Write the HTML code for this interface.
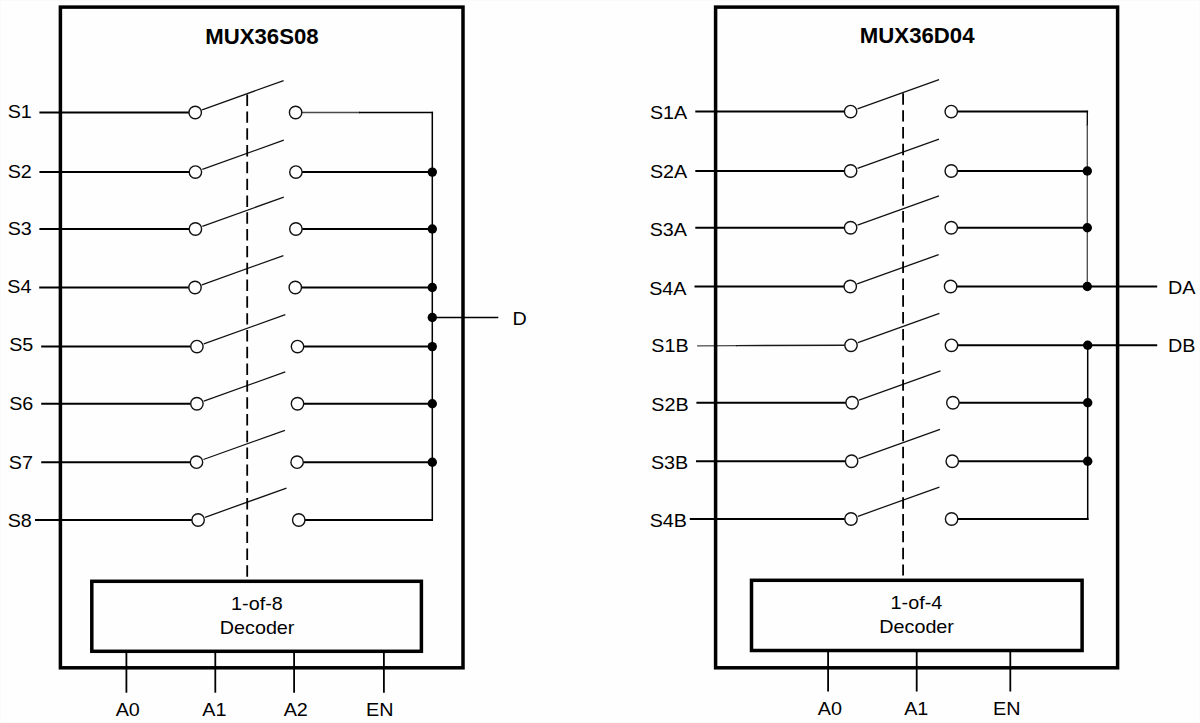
<!DOCTYPE html>
<html><head><meta charset="utf-8"><title>MUX36S08 / MUX36D04</title>
<style>
html,body{margin:0;padding:0;background:#fefefe;}
body{width:1200px;height:723px;overflow:hidden;font-family:"Liberation Sans",sans-serif;}
svg{display:block;}
line{stroke:#000;stroke-width:2;}
.med{stroke-width:1.3;}
.dl{stroke-width:1.5;}
.bus{stroke-width:1.5;}
.pin{stroke-width:1.8;}
.thin{stroke:#4a4a4a;stroke-width:1.3;}
.thin2{stroke:#1a1a1a;stroke-width:1.4;}
.arm{stroke:#111;stroke-width:1.25;}
.dash{stroke-width:1.8;stroke-dasharray:11.45 5.36;}
.o{fill:#fff;stroke:#111;stroke-width:1.4;}
.d{fill:#000;}
.box{fill:none;stroke:#000;stroke-width:3.5;}
text{font-family:"Liberation Sans",sans-serif;font-size:19.0px;fill:#000;}
text.b{font-weight:bold;font-size:22.2px;}
</style></head><body>
<svg width="1200" height="723" viewBox="0 0 1200 723">
<rect x="0" y="0" width="1200" height="723" fill="#fefefe"/>
<rect x="0.5" y="0.5" width="1199" height="722" fill="none" stroke="#fafafa" stroke-width="1"/>
<line x1="39.4" y1="112.5" x2="189.0" y2="112.5"/>
<line class="thin" x1="301.8" y1="112.5" x2="360" y2="112.5"/>
<line class="med" x1="359" y1="112.5" x2="433.1" y2="112.5"/>
<circle class="o" cx="195.2" cy="112.5" r="6.2"/>
<circle class="o" cx="295.6" cy="112.5" r="6.2"/>
<line class="arm" x1="202.10" y1="109.80" x2="283.60" y2="80.60"/>
<line x1="39.4" y1="172.1" x2="189.20000000000002" y2="172.1"/>
<line x1="302.09999999999997" y1="172.1" x2="432.3" y2="172.1"/>
<circle class="o" cx="195.4" cy="172.1" r="6.2"/>
<circle class="o" cx="295.9" cy="172.1" r="6.2"/>
<line class="arm" x1="202.30" y1="169.40" x2="283.80" y2="140.20"/>
<circle class="d" cx="432.3" cy="172.1" r="4.7"/>
<line x1="39.4" y1="229.0" x2="189.20000000000002" y2="229.0"/>
<line x1="302.09999999999997" y1="229.0" x2="432.3" y2="229.0"/>
<circle class="o" cx="195.4" cy="229.0" r="6.2"/>
<circle class="o" cx="295.9" cy="229.0" r="6.2"/>
<line class="arm" x1="202.30" y1="226.30" x2="283.80" y2="197.10"/>
<circle class="d" cx="432.3" cy="229.0" r="4.7"/>
<line x1="39.2" y1="287.5" x2="188.8" y2="287.5"/>
<line x1="301.5" y1="287.5" x2="432.3" y2="287.5"/>
<circle class="o" cx="195.0" cy="287.5" r="6.2"/>
<circle class="o" cx="295.3" cy="287.5" r="6.2"/>
<line class="arm" x1="201.90" y1="284.80" x2="283.40" y2="255.60"/>
<circle class="d" cx="432.3" cy="287.5" r="4.7"/>
<line x1="41.2" y1="346.6" x2="190.70000000000002" y2="346.6"/>
<line x1="303.7" y1="346.6" x2="432.3" y2="346.6"/>
<circle class="o" cx="196.9" cy="346.6" r="6.2"/>
<circle class="o" cx="297.5" cy="346.6" r="6.2"/>
<line class="arm" x1="203.80" y1="343.90" x2="285.30" y2="314.70"/>
<circle class="d" cx="432.3" cy="346.6" r="4.7"/>
<line x1="41.2" y1="403.75" x2="190.70000000000002" y2="403.75"/>
<line x1="303.7" y1="403.75" x2="432.3" y2="403.75"/>
<circle class="o" cx="196.9" cy="403.75" r="6.2"/>
<circle class="o" cx="297.5" cy="403.75" r="6.2"/>
<line class="arm" x1="203.80" y1="401.05" x2="285.30" y2="371.85"/>
<circle class="d" cx="432.3" cy="403.75" r="4.7"/>
<line x1="41.2" y1="462.2" x2="190.3" y2="462.2"/>
<line x1="303.3" y1="462.2" x2="432.3" y2="462.2"/>
<circle class="o" cx="196.5" cy="462.2" r="6.2"/>
<circle class="o" cx="297.1" cy="462.2" r="6.2"/>
<line class="arm" x1="203.40" y1="459.50" x2="284.90" y2="430.30"/>
<circle class="d" cx="432.3" cy="462.2" r="4.7"/>
<line x1="35.0" y1="520.0" x2="191.9" y2="520.0"/>
<line x1="304.95" y1="520.0" x2="432.3" y2="520.0"/>
<circle class="o" cx="198.1" cy="520.0" r="6.2"/>
<circle class="o" cx="298.75" cy="520.0" r="6.2"/>
<line class="arm" x1="205.00" y1="517.30" x2="286.50" y2="488.10"/>
<line class="bus" x1="432.3" y1="111.8" x2="432.3" y2="521.0"/>
<line class="dl" x1="432.3" y1="317.5" x2="498.3" y2="317.5"/>
<circle class="d" cx="432.3" cy="317.5" r="4.7"/>
<line class="dash" x1="247.2" y1="94.6" x2="247.2" y2="577.2"/>
<rect class="box" x="60.4" y="7.1" width="402.6" height="660.7"/>
<rect class="box" x="91.8" y="581.3" width="329.6" height="70.0"/>
<line class="pin" x1="126.4" y1="652" x2="126.4" y2="692.7"/>
<line class="pin" x1="215.3" y1="652" x2="215.3" y2="692.7"/>
<line class="pin" x1="294.1" y1="652" x2="294.1" y2="692.7"/>
<line class="pin" x1="383.9" y1="652" x2="383.9" y2="692.7"/>
<line x1="695.3" y1="111.6" x2="844.4" y2="111.6"/>
<line x1="957.45" y1="111.6" x2="1088.1" y2="111.6"/>
<circle class="o" cx="850.6" cy="111.6" r="6.2"/>
<circle class="o" cx="951.25" cy="111.6" r="6.2"/>
<line class="arm" x1="857.50" y1="108.90" x2="939.00" y2="79.70"/>
<line x1="695.3" y1="171.0" x2="844.4" y2="171.0"/>
<line x1="957.45" y1="171.0" x2="1087.3" y2="171.0"/>
<circle class="o" cx="850.6" cy="171.0" r="6.2"/>
<circle class="o" cx="951.25" cy="171.0" r="6.2"/>
<line class="arm" x1="857.50" y1="168.30" x2="939.00" y2="139.10"/>
<line x1="695.3" y1="227.75" x2="844.4" y2="227.75"/>
<line x1="957.45" y1="227.75" x2="1087.3" y2="227.75"/>
<circle class="o" cx="850.6" cy="227.75" r="6.2"/>
<circle class="o" cx="951.25" cy="227.75" r="6.2"/>
<line class="arm" x1="857.50" y1="225.05" x2="939.00" y2="195.85"/>
<line x1="694.5" y1="286.5" x2="844.05" y2="286.5"/>
<line x1="956.8000000000001" y1="286.5" x2="1087.3" y2="286.5"/>
<circle class="o" cx="850.25" cy="286.5" r="6.2"/>
<circle class="o" cx="950.6" cy="286.5" r="6.2"/>
<line class="arm" x1="857.15" y1="283.80" x2="938.65" y2="254.60"/>
<line class="thin" x1="697.1" y1="345.8" x2="737" y2="345.6"/>
<line class="thin2" x1="736" y1="345.6" x2="844.8" y2="345.2"/>
<line x1="957.7" y1="345.3" x2="1087.7" y2="345.3"/>
<circle class="o" cx="851.0" cy="345.3" r="6.2"/>
<circle class="o" cx="951.5" cy="345.3" r="6.2"/>
<line class="arm" x1="857.90" y1="342.60" x2="939.40" y2="313.40"/>
<line x1="696.4" y1="402.75" x2="845.9" y2="402.75"/>
<line x1="959.1" y1="402.75" x2="1087.7" y2="402.75"/>
<circle class="o" cx="852.1" cy="402.75" r="6.2"/>
<circle class="o" cx="952.9" cy="402.75" r="6.2"/>
<line class="arm" x1="859.00" y1="400.05" x2="940.50" y2="370.85"/>
<line x1="696.0" y1="461.25" x2="845.4" y2="461.25"/>
<line x1="958.45" y1="461.25" x2="1087.7" y2="461.25"/>
<circle class="o" cx="851.6" cy="461.25" r="6.2"/>
<circle class="o" cx="952.25" cy="461.25" r="6.2"/>
<line class="arm" x1="858.50" y1="458.55" x2="940.00" y2="429.35"/>
<line x1="689.8" y1="519.0" x2="844.8" y2="519.0"/>
<line x1="957.8000000000001" y1="519.0" x2="1088.5" y2="519.0"/>
<circle class="o" cx="851.0" cy="519.0" r="6.2"/>
<circle class="o" cx="951.6" cy="519.0" r="6.2"/>
<line class="arm" x1="857.90" y1="516.30" x2="939.40" y2="487.10"/>
<line class="med" x1="1087.3" y1="110.8" x2="1087.3" y2="126"/>
<line class="thin" x1="1087.3" y1="125" x2="1087.3" y2="286.5"/>
<line class="bus" x1="1087.7" y1="345.3" x2="1087.7" y2="520.0"/>
<line x1="1087.3" y1="286.5" x2="1157.2" y2="286.5"/>
<line x1="1087.7" y1="345.3" x2="1157.2" y2="345.3"/>
<circle class="d" cx="1087.3" cy="171.0" r="4.7"/>
<circle class="d" cx="1087.3" cy="227.75" r="4.7"/>
<circle class="d" cx="1087.3" cy="286.5" r="4.7"/>
<circle class="d" cx="1087.7" cy="345.3" r="4.7"/>
<circle class="d" cx="1087.7" cy="402.75" r="4.7"/>
<circle class="d" cx="1087.7" cy="461.25" r="4.7"/>
<line class="dash" style="stroke-dasharray:11.45 5.38" x1="903.1" y1="93.3" x2="903.1" y2="575.6"/>
<rect class="box" x="715.6" y="7.1" width="402.0" height="660.7"/>
<rect class="box" x="751.5" y="580.3" width="330.6" height="70.2"/>
<line class="pin" x1="828.1" y1="651" x2="828.1" y2="691.5"/>
<line class="pin" x1="916.7" y1="651" x2="916.7" y2="691.5"/>
<line class="pin" x1="1010.3" y1="651" x2="1010.3" y2="691.5"/>
<text transform="translate(7.70 118.40) scale(1.04 1)">S1</text><text transform="translate(7.70 178.20) scale(1.04 1)">S2</text><text transform="translate(7.70 235.00) scale(1.04 1)">S3</text><text transform="translate(7.30 293.40) scale(1.04 1)">S4</text><text transform="translate(9.20 351.30) scale(1.04 1)">S5</text><text transform="translate(9.20 409.60) scale(1.04 1)">S6</text><text transform="translate(8.80 468.60) scale(1.04 1)">S7</text><text transform="translate(7.70 526.90) scale(1.04 1)">S8</text><text transform="translate(649.90 119.00) scale(1.04 1)">S1A</text><text transform="translate(649.90 177.70) scale(1.04 1)">S2A</text><text transform="translate(649.70 235.70) scale(1.04 1)">S3A</text><text transform="translate(649.20 294.50) scale(1.04 1)">S4A</text><text transform="translate(651.30 351.70) scale(1.04 1)">S1B</text><text transform="translate(651.30 410.70) scale(1.04 1)">S2B</text><text transform="translate(650.90 469.20) scale(1.04 1)">S3B</text><text transform="translate(649.70 527.10) scale(1.04 1)">S4B</text><text transform="translate(261.90 44.00) scale(1.0 1)" class="b" text-anchor="middle">MUX36S08</text><text transform="translate(917.20 42.60) scale(1.0 1)" class="b" text-anchor="middle">MUX36D04</text><text transform="translate(256.90 610.10) scale(1.04 1)" text-anchor="middle">1-of-8</text><text transform="translate(257.10 634.00) scale(1.04 1)" text-anchor="middle">Decoder</text><text transform="translate(916.40 609.20) scale(1.04 1)" text-anchor="middle">1-of-4</text><text transform="translate(916.60 633.20) scale(1.04 1)" text-anchor="middle">Decoder</text><text transform="translate(512.40 324.70) scale(1.04 1)">D</text><text transform="translate(1167.90 293.50) scale(1.04 1)">DA</text><text transform="translate(1167.90 352.10) scale(1.04 1)">DB</text><text transform="translate(127.70 716.00) scale(1.04 1)" text-anchor="middle">A0</text><text transform="translate(214.40 716.00) scale(1.04 1)" text-anchor="middle">A1</text><text transform="translate(295.70 716.00) scale(1.04 1)" text-anchor="middle">A2</text><text transform="translate(379.80 716.00) scale(1.04 1)" text-anchor="middle">EN</text><text transform="translate(829.80 715.10) scale(1.04 1)" text-anchor="middle">A0</text><text transform="translate(916.20 715.10) scale(1.04 1)" text-anchor="middle">A1</text><text transform="translate(1006.80 715.10) scale(1.04 1)" text-anchor="middle">EN</text>
</svg>
</body></html>
